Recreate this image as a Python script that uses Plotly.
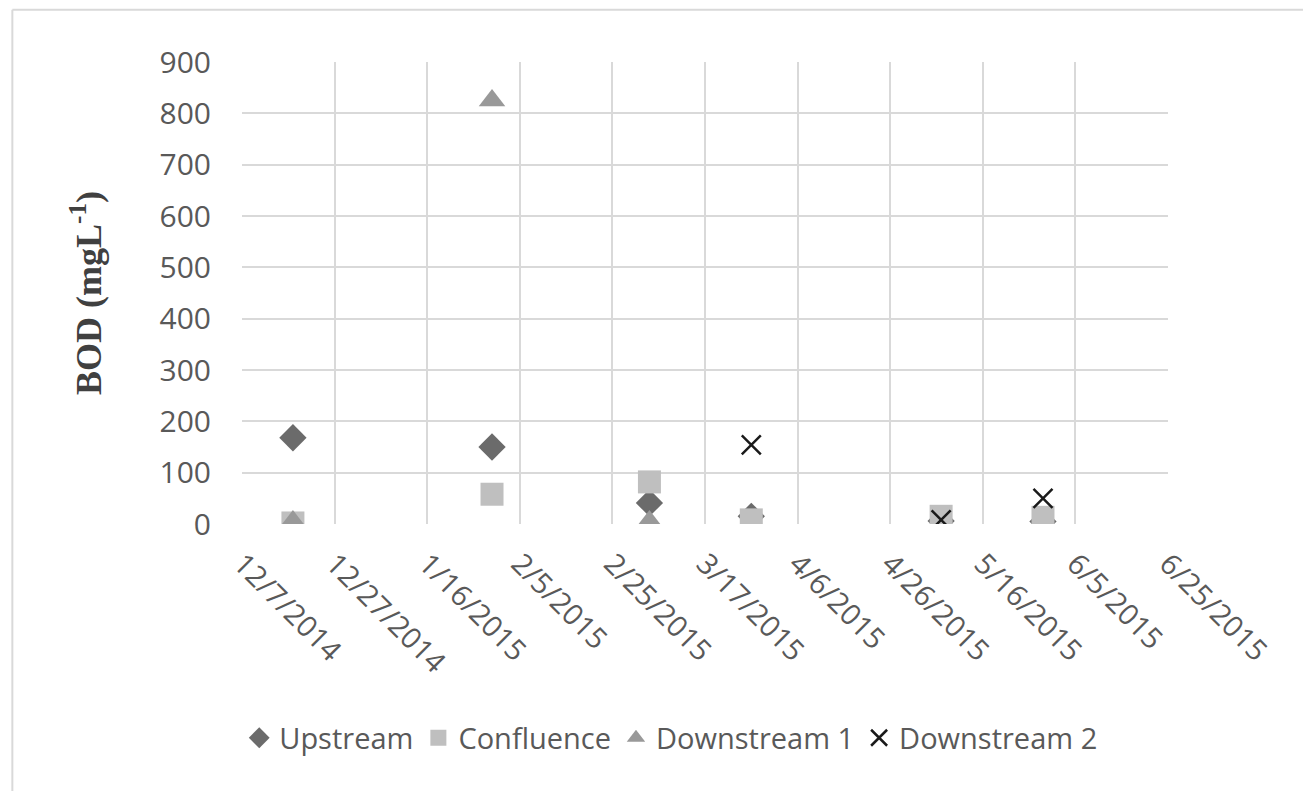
import plotly.graph_objects as go

# sampling dates and BOD values (mg/L) per site
upstream_dates = ["2014-12-18", "2015-01-30", "2015-03-05", "2015-03-27", "2015-05-07", "2015-05-29"]
upstream_bod = [168, 150, 41, 15, 6, 5]

confluence_dates = ["2014-12-18", "2015-01-30", "2015-03-05", "2015-03-27", "2015-05-07", "2015-05-29"]
confluence_bod = [2, 58, 82, 8, 15, 13]

down1_dates = ["2014-12-18", "2015-01-30", "2015-03-05"]
down1_bod = [5, 825, 5]

down2_dates = ["2015-03-27", "2015-05-07", "2015-05-29"]
down2_bod = [154, 8, 50]

tick_dates = ["2014-12-07", "2014-12-27", "2015-01-16", "2015-02-05", "2015-02-25", "2015-03-17",
              "2015-04-06", "2015-04-26", "2015-05-16", "2015-06-05", "2015-06-25"]
tick_text = ["12/7/2014", "12/27/2014", "1/16/2015", "2/5/2015", "2/25/2015", "3/17/2015",
             "4/6/2015", "4/26/2015", "5/16/2015", "6/5/2015", "6/25/2015"]

fig = go.Figure()

fig.add_trace(go.Scatter(
    x=upstream_dates, y=upstream_bod, name='Upstream', mode='markers',
    marker=dict(symbol='diamond', size=21, color='#6b6b6b')
))
fig.add_trace(go.Scatter(
    x=confluence_dates, y=confluence_bod, name='Confluence', mode='markers',
    marker=dict(symbol='square', size=23, color='#bfbfbf')
))
fig.add_trace(go.Scatter(
    x=down1_dates, y=down1_bod, name='Downstream 1', mode='markers',
    marker=dict(symbol='triangle-up', size=23, color='#999999')
))
fig.add_trace(go.Scatter(
    x=down2_dates, y=down2_bod, name='Downstream 2', mode='markers',
    marker=dict(symbol='x-thin-open', size=19, color='#1a1a1a', line=dict(width=2.5, color='#1a1a1a'))
))

# chart-area border (only top and left show in the original crop)
fig.add_shape(type='line', xref='paper', yref='paper', x0=-0.248, x1=1.2, y0=1.113, y1=1.113,
              line=dict(color='#d9d9d9', width=2))
fig.add_shape(type='line', xref='paper', yref='paper', x0=-0.248, x1=-0.248, y0=-0.6, y1=1.113,
              line=dict(color='#d9d9d9', width=2))

fig.update_layout(
    width=1303, height=783,
    paper_bgcolor='white', plot_bgcolor='white',
    margin=dict(l=234, r=143, t=54, b=267),
    showlegend=True,
    legend=dict(
        orientation='h', x=0.463, xanchor='center', y=-0.463, yanchor='middle',
        font=dict(family='Open Sans', size=29, color='#595959'),
        itemwidth=30, tracegroupgap=0
    ),
    xaxis=dict(
        type='date', range=["2014-12-07", "2015-06-25"],
        tickvals=tick_dates, ticktext=tick_text, tickangle=45,
        showgrid=True, gridcolor='#d9d9d9', gridwidth=2,
        showline=False, zeroline=False, ticks='',
        ticklabelstandoff=16,
        tickfont=dict(family='Open Sans', size=29, color='#595959')
    ),
    yaxis=dict(
        range=[0, 900], dtick=100,
        showgrid=True, gridcolor='#d9d9d9', gridwidth=2,
        showline=False, zeroline=False, ticks='',
        ticklabelstandoff=30,
        tickfont=dict(family='Open Sans', size=30, color='#595959'),
        title=dict(text='<b>BOD (mgL<sup>-1</sup>)</b>', standoff=46,
                   font=dict(family='Liberation Serif', size=36, color='#404040'))
    )
)

fig.write_html("out.html")
